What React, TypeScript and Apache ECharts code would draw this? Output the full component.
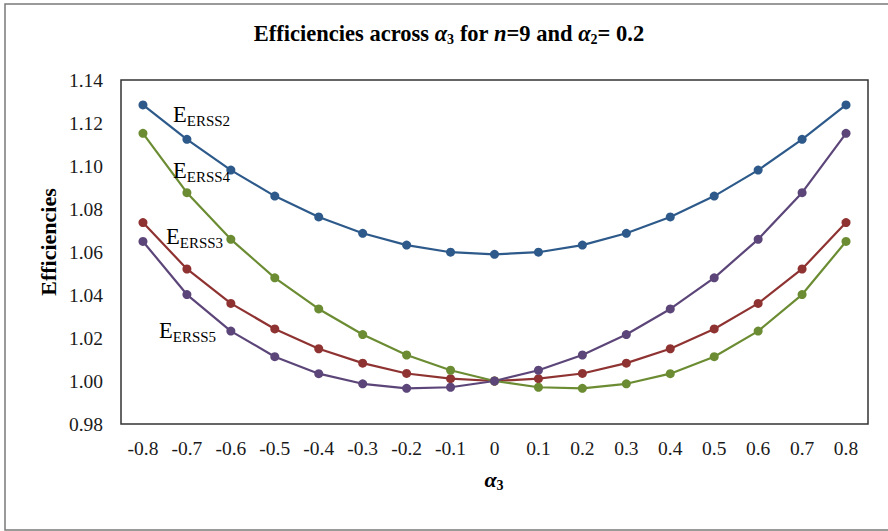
import React, { useEffect, useRef } from "react";
import * as echarts from "echarts";

// alpha_3 values along the horizontal axis
const alpha3 = ["-0.8", "-0.7", "-0.6", "-0.5", "-0.4", "-0.3", "-0.2", "-0.1", "0", "0.1", "0.2", "0.3", "0.4", "0.5", "0.6", "0.7", "0.8"];

// Efficiency of each estimator for n = 9 and alpha_2 = 0.2
const erss2 = [1.1284, 1.1124, 1.0981, 1.086, 1.0763, 1.0687, 1.0632, 1.0599, 1.0589, 1.0599, 1.0632, 1.0687, 1.0763, 1.086, 1.0981, 1.1124, 1.1284];
const erss3 = [1.0737, 1.0521, 1.0361, 1.0242, 1.015, 1.0083, 1.0035, 1.0011, 1.0, 1.0011, 1.0035, 1.0083, 1.015, 1.0242, 1.0361, 1.0521, 1.0737];
const erss4 = [1.1152, 1.0876, 1.0659, 1.048, 1.0335, 1.0216, 1.0121, 1.005, 1.0, 0.9971, 0.9966, 0.9987, 1.0034, 1.0113, 1.0232, 1.0402, 1.0649];
const erss5 = [1.0649, 1.0402, 1.0232, 1.0113, 1.0034, 0.9987, 0.9966, 0.9971, 1.0, 1.005, 1.0121, 1.0216, 1.0335, 1.048, 1.0659, 1.0876, 1.1152];

// Y axis range
const yMin = 0.98;
const yMax = 1.14;
const yStep = 0.02;

const SERIF = '"Liberation Serif", "Times New Roman", serif';

const seriesDefs = [
  { name: "ERSS2", data: erss2, color: "#2D5A8A" },
  { name: "ERSS3", data: erss3, color: "#8E3331" },
  { name: "ERSS4", data: erss4, color: "#6B8C32" },
  { name: "ERSS5", data: erss5, color: "#5C4679" },
];

// Inline curve labels: "E" with a subscripted estimator name
const curveLabels = [
  { sub: "ERSS2", x: 173, y: 114.5 },
  { sub: "ERSS4", x: 173, y: 170 },
  { sub: "ERSS3", x: 166, y: 236 },
  { sub: "ERSS5", x: 159, y: 330.5 },
];

const labelRich = {
  e: { fontFamily: SERIF, fontSize: 22.5, color: "#1a1a1a" },
  s: { fontFamily: SERIF, fontSize: 15, color: "#1a1a1a", padding: [13, 0, 0, 0] },
};

export default function App() {
  const ref = useRef<HTMLDivElement>(null);

  useEffect(() => {
    if (!ref.current) return;
    const chart = echarts.init(ref.current, null, { renderer: "svg" });

    const option: any = {
      animation: false,
      backgroundColor: "#ffffff",
      grid: {
        left: 121,
        top: 80,
        right: 20,
        bottom: 107,
        show: true,
        borderColor: "#333333",
        borderWidth: 1.5,
        backgroundColor: "transparent",
      },
      xAxis: {
        type: "category",
        data: alpha3,
        boundaryGap: true,
        axisLine: { show: false },
        axisTick: { show: false },
        splitLine: { show: false },
        axisLabel: {
          fontFamily: SERIF,
          fontSize: 19.5,
          color: "#1a1a1a",
          margin: 14,
          interval: 0,
        },
      },
      yAxis: {
        type: "value",
        min: yMin,
        max: yMax,
        interval: yStep,
        axisLine: { show: false },
        axisTick: { show: false },
        splitLine: { show: false },
        axisLabel: {
          fontFamily: SERIF,
          fontSize: 19.5,
          color: "#1a1a1a",
          margin: 18,
          formatter: (v: number) => v.toFixed(2),
        },
      },
      series: seriesDefs.map((s) => ({
        name: s.name,
        type: "line",
        data: s.data,
        symbol: "circle",
        symbolSize: 9,
        showSymbol: true,
        lineStyle: { color: s.color, width: 2.2 },
        itemStyle: { color: s.color },
        emphasis: { disabled: true },
        z: 3,
      })),
      graphic: [
        // outer frame
        {
          type: "rect",
          shape: { x: 5, y: 4, width: 900, height: 526 },
          style: { fill: "none", stroke: "#7a7a7a", lineWidth: 1.5 },
          silent: true,
          z: -1,
        },
        // title
        {
          type: "text",
          x: 449,
          y: 33.5,
          style: {
            text: "{b|Efficiencies across }{i|α}{sub|3}{b| for }{i|n}{b|=9 and }{i|α}{sub|2}{b|= 0.2}",
            align: "center",
            verticalAlign: "middle",
            rich: {
              b: { fontFamily: SERIF, fontSize: 22.5, fontWeight: "bold", color: "#000" },
              i: { fontFamily: SERIF, fontSize: 22.5, fontWeight: "bold", fontStyle: "italic", color: "#000" },
              sub: { fontFamily: SERIF, fontSize: 14, fontWeight: "bold", color: "#000", padding: [12, 0, 0, 0] },
            },
          },
        },
        // y axis title
        {
          type: "text",
          x: 48,
          y: 242,
          rotation: Math.PI / 2,
          style: {
            text: "Efficiencies",
            fontFamily: SERIF,
            fontSize: 22,
            fontWeight: "bold",
            fill: "#000",
            align: "center",
            verticalAlign: "middle",
          },
        },
        // x axis title
        {
          type: "text",
          x: 494,
          y: 479,
          style: {
            text: "{i|α}{sub|3}",
            align: "center",
            verticalAlign: "middle",
            rich: {
              i: { fontFamily: SERIF, fontSize: 22, fontWeight: "bold", fontStyle: "italic", color: "#000" },
              sub: { fontFamily: SERIF, fontSize: 14, fontWeight: "bold", color: "#000", padding: [12, 0, 0, 0] },
            },
          },
        },
        ...curveLabels.map((l) => ({
          type: "text",
          x: l.x,
          y: l.y,
          z: 10,
          style: {
            text: `{e|E}{s|${l.sub}}`,
            align: "left",
            verticalAlign: "middle",
            rich: labelRich,
          },
        })),
      ],
    };

    chart.setOption(option);
    return () => chart.dispose();
  }, []);

  return (
    <div
      ref={ref}
      style={{ position: "absolute", left: 0, top: 0, width: 888, height: 531 }}
    />
  );
}
